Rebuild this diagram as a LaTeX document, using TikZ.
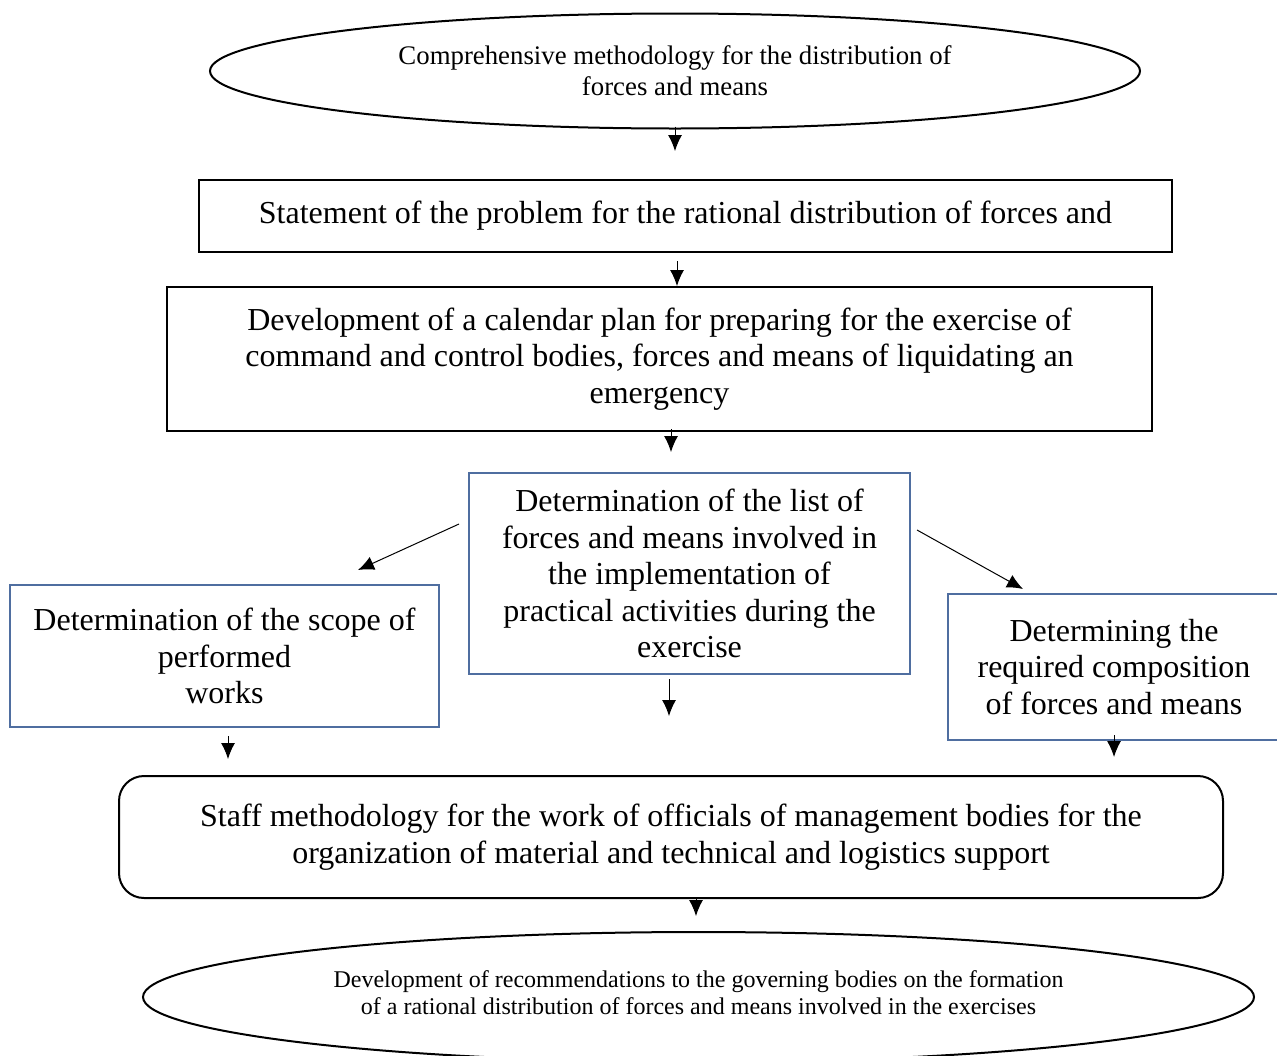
\documentclass[tikz,border=0pt]{standalone}
\usepackage{fontspec}
\setmainfont{Liberation Serif}
\usepackage{tikz}
\usetikzlibrary{arrows.meta, shapes.geometric}
\definecolor{boxblue}{RGB}{79,110,160}
\tikzstyle{basefont}=[font=\fontsize{16}{18.25}\selectfont]
\tikzstyle{box}=[basefont, draw=black, line width=1pt, align=center, inner sep=0pt]
\tikzstyle{bluebox}=[box, draw=boxblue]
\tikzstyle{roundbox}=[box, rounded corners=12.5pt]
\tikzstyle{oval}=[ellipse, draw=black, line width=1pt, align=center, inner sep=0pt]
\tikzstyle{arrow}=[line width=0.5pt, -{Latex[length=8pt,width=7pt]}]

\begin{document}
\begin{tikzpicture}[x=0.5pt, y=-0.5pt]
        % Page frame (pixel grid of the figure)
        \useasboundingbox (0,0) rectangle (1277,1055);
        \clip (0,0) rectangle (1277,1055);

        % Start and end ovals
        \node[oval, minimum width=465pt, minimum height=57.5pt,
              font=\fontsize{13.4}{15.5}\selectfont]
            (start) at (675,71) {\rule{0pt}{4pt}Comprehensive methodology for the distribution of\\forces and means};
        \node[oval, minimum width=555.5pt, minimum height=65pt,
              font=\fontsize{12}{13.5}\selectfont]
            (result) at (698.5,997) {Development of recommendations to the governing bodies on the formation\\of a rational distribution of forces and means involved in the exercises\rule[-4pt]{0pt}{0pt}};

        % Main steps
        \node[box, minimum width=486.5pt, minimum height=36pt]
            (problem) at (685.5,216) {Statement of the problem for the rational distribution of forces and};
        \node[box, minimum width=492.5pt, minimum height=72pt]
            (plan) at (659.5,359) {Development of a calendar plan for preparing for the exercise of\\command and control bodies, forces and means of liquidating an\\emergency};
        \node[bluebox, minimum width=220.5pt, minimum height=100.5pt]
            (list) at (689.5,573.5) {Determination of the list of\\forces and means involved in\\the implementation of\\practical activities during the\\exercise};
        \node[bluebox, minimum width=214.5pt, minimum height=71pt]
            (scope) at (224.5,656) {Determination of the scope of\\performed\\works};
        \node[bluebox, minimum width=166pt, minimum height=73pt]
            (composition) at (1114,667) {Determining the\\required composition\\of forces and means};
        \node[roundbox, minimum width=552pt, minimum height=61pt]
            (staff) at (671,837) {Staff methodology for the work of officials of management bodies for the\\organization of material and technical and logistics support};

        % Arrows between the steps
        \draw[arrow, shorten <=-1.5pt, shorten >=14pt]
            (start.south) -- (start.south |- problem.north);
        \draw[arrow, shorten <=4pt]
            ([xshift=-4.25pt]problem.south) -- ([xshift=-4.25pt]problem.south |- plan.north);
        \draw[arrow, shorten <=-1.5pt, shorten >=10pt]
            ([xshift=5.75pt]plan.south) -- ([xshift=5.75pt]plan.south |- list.north);
        \draw[arrow]
            ([xshift=-4.5pt, yshift=24.75pt]list.west) -- ([xshift=66.75pt, yshift=7pt]scope.north);
        \draw[arrow]
            ([xshift=3pt, yshift=21.75pt]list.east) -- ([xshift=-45.5pt, yshift=2pt]composition.north);
        \draw[arrow, shorten <=2pt, shorten >=29.5pt]
            ([xshift=-10.25pt]list.south) -- ([xshift=-10.25pt]list.south |- staff.north);
        \draw[arrow, shorten <=4pt, shorten >=8pt]
            ([xshift=1.75pt]scope.south) -- ([xshift=1.75pt]scope.south |- staff.north);
        \draw[arrow, shorten <=-3pt, shorten >=9pt]
            (composition.south) -- (composition.south |- staff.north);
        \draw[arrow, shorten >=7.5pt]
            ([xshift=12.5pt]staff.south) -- ([xshift=12.5pt]staff.south |- result.north);
\end{tikzpicture}
\end{document}
